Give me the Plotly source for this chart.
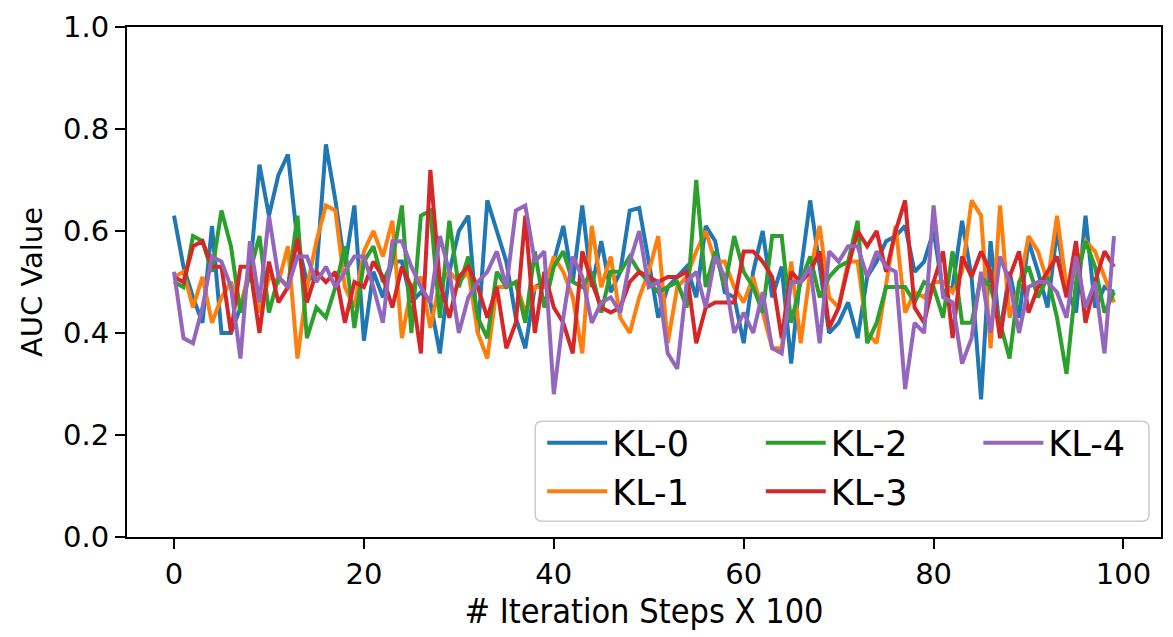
import plotly.graph_objects as go

steps = list(range(100))

kl0 = [0.63, 0.53, 0.47, 0.42, 0.61, 0.40, 0.40, 0.45, 0.52, 0.73, 0.63, 0.71, 0.75, 0.58, 0.50, 0.52, 0.77,
       0.66, 0.53, 0.65, 0.385, 0.52, 0.47, 0.54, 0.54, 0.46, 0.48, 0.46, 0.36, 0.52, 0.60, 0.63, 0.40,
       0.66, 0.60, 0.54, 0.43, 0.37, 0.49, 0.50, 0.54, 0.61, 0.50, 0.65, 0.49, 0.58, 0.48, 0.52, 0.64,
       0.645, 0.54, 0.43, 0.49, 0.51, 0.53, 0.47, 0.61, 0.58, 0.48, 0.47, 0.38, 0.52, 0.60, 0.47, 0.53,
       0.34, 0.52, 0.66, 0.53, 0.40, 0.42, 0.46, 0.39, 0.51, 0.54, 0.58, 0.59, 0.61, 0.52, 0.54, 0.60,
       0.48, 0.49, 0.62, 0.51, 0.27, 0.58, 0.40, 0.52, 0.43, 0.58, 0.52, 0.45, 0.60, 0.49, 0.44, 0.63,
       0.45, 0.49, 0.48]
kl1 = [0.51, 0.52, 0.45, 0.51, 0.42, 0.47, 0.50, 0.45, 0.53, 0.44, 0.51, 0.50, 0.57, 0.35, 0.49, 0.58, 0.65,
       0.64, 0.49, 0.45, 0.56, 0.60, 0.55, 0.62, 0.39, 0.49, 0.51, 0.41, 0.50, 0.52, 0.50, 0.52, 0.40,
       0.35, 0.49, 0.49, 0.50, 0.44, 0.49, 0.49, 0.55, 0.52, 0.47, 0.36, 0.61, 0.49, 0.55, 0.43, 0.40,
       0.47, 0.52, 0.59, 0.38, 0.49, 0.51, 0.56, 0.60, 0.54, 0.54, 0.49, 0.46, 0.51, 0.44, 0.37, 0.37,
       0.54, 0.38, 0.52, 0.61, 0.47, 0.45, 0.54, 0.54, 0.40, 0.38, 0.49, 0.61, 0.44, 0.48, 0.47, 0.50,
       0.50, 0.48, 0.52, 0.66, 0.63, 0.37, 0.65, 0.43, 0.49, 0.59, 0.56, 0.50, 0.63, 0.49, 0.52, 0.58,
       0.56, 0.51, 0.46]
kl2 = [0.50, 0.49, 0.59, 0.58, 0.52, 0.64, 0.57, 0.44, 0.52, 0.59, 0.44, 0.51, 0.49, 0.63, 0.39, 0.45, 0.43,
       0.49, 0.57, 0.41, 0.54, 0.57, 0.50, 0.54, 0.65, 0.40, 0.63, 0.64, 0.43, 0.62, 0.49, 0.55, 0.43,
       0.39, 0.52, 0.49, 0.50, 0.42, 0.56, 0.45, 0.53, 0.56, 0.50, 0.49, 0.52, 0.44, 0.52, 0.52, 0.55,
       0.52, 0.50, 0.48, 0.49, 0.50, 0.45, 0.70, 0.49, 0.56, 0.49, 0.59, 0.52, 0.49, 0.44, 0.59, 0.59,
       0.42, 0.50, 0.55, 0.47, 0.51, 0.53, 0.54, 0.62, 0.38, 0.42, 0.49, 0.49, 0.49, 0.46, 0.50, 0.49,
       0.43, 0.56, 0.42, 0.42, 0.51, 0.49, 0.42, 0.35, 0.50, 0.53, 0.47, 0.51, 0.43, 0.32, 0.50, 0.58,
       0.53, 0.44, 0.48]
kl3 = [0.51, 0.50, 0.57, 0.58, 0.53, 0.53, 0.40, 0.53, 0.53, 0.40, 0.54, 0.46, 0.49, 0.585, 0.46, 0.52, 0.50,
       0.52, 0.42, 0.50, 0.49, 0.54, 0.51, 0.45, 0.53, 0.49, 0.36, 0.72, 0.50, 0.43, 0.51, 0.53, 0.49,
       0.43, 0.49, 0.37, 0.42, 0.63, 0.40, 0.52, 0.45, 0.42, 0.36, 0.56, 0.50, 0.45, 0.44, 0.45, 0.50,
       0.52, 0.51, 0.50, 0.51, 0.51, 0.52, 0.38, 0.45, 0.46, 0.46, 0.46, 0.56, 0.56, 0.54, 0.51, 0.39,
       0.52, 0.50, 0.52, 0.56, 0.41, 0.45, 0.53, 0.60, 0.57, 0.60, 0.52, 0.60, 0.66, 0.45, 0.42, 0.50,
       0.56, 0.39, 0.55, 0.51, 0.56, 0.52, 0.39, 0.51, 0.56, 0.44, 0.49, 0.52, 0.55, 0.47, 0.58, 0.42,
       0.50, 0.56, 0.53]
kl4 = [0.52, 0.39, 0.38, 0.45, 0.55, 0.54, 0.49, 0.35, 0.58, 0.46, 0.63, 0.51, 0.49, 0.55, 0.55, 0.50, 0.53,
       0.49, 0.52, 0.55, 0.55, 0.49, 0.42, 0.58, 0.58, 0.53, 0.49, 0.46, 0.59, 0.52, 0.40, 0.47, 0.50,
       0.52, 0.56, 0.49, 0.64, 0.65, 0.54, 0.56, 0.28, 0.43, 0.55, 0.51, 0.42, 0.46, 0.47, 0.44, 0.54,
       0.60, 0.49, 0.50, 0.36, 0.33, 0.50, 0.52, 0.45, 0.55, 0.51, 0.40, 0.44, 0.40, 0.48, 0.37, 0.36,
       0.50, 0.50, 0.53, 0.38, 0.56, 0.54, 0.57, 0.57, 0.51, 0.56, 0.53, 0.52, 0.29, 0.42, 0.40, 0.65,
       0.47, 0.46, 0.34, 0.39, 0.52, 0.40, 0.55, 0.50, 0.40, 0.49, 0.50, 0.50, 0.48, 0.43, 0.55, 0.45,
       0.50, 0.36, 0.59]

series_names = ["KL-0", "KL-1", "KL-2", "KL-3", "KL-4"]
series_values = [kl0, kl1, kl2, kl3, kl4]
colors = ["#1f77b4", "#ff7f0e", "#2ca02c", "#d62728", "#9467bd"]
legend_ids = ["legend", "legend", "legend2", "legend2", "legend3"]

x_ticks = [0, 20, 40, 60, 80, 100]
y_ticks = [0.0, 0.2, 0.4, 0.6, 0.8, 1.0]

FONT = "DejaVu Sans"
COND = "DejaVu Sans Condensed, DejaVu Sans"
fig = go.Figure()
for name, vals, col, lg in zip(series_names, series_values, colors, legend_ids):
    fig.add_trace(go.Scatter(x=steps, y=vals, mode="lines", name=name, legendgroup=name,
                             line=dict(color=col, width=4), legend=lg))

# plot area in px: x 127..1163, y 21..537
W, H = 1173, 637
L, R, T, B = 127, 10, 21, 100
pw, ph = W - L - R, H - T - B

def px(xp):
    return (xp - L) / pw

def py(yp):
    return (H - B - yp) / ph

# legend frame with rounded corners
x0, x1, y0, y1 = px(536), px(1151), py(521), py(420)
rx, ry = 7 / pw, 7 / ph
path = (f"M{x0+rx},{y0} L{x1-rx},{y0} Q{x1},{y0} {x1},{y0+ry} "
        f"L{x1},{y1-ry} Q{x1},{y1} {x1-rx},{y1} L{x0+rx},{y1} "
        f"Q{x0},{y1} {x0},{y1-ry} L{x0},{y0+ry} Q{x0},{y0} {x0+rx},{y0} Z")
fig.add_shape(type="path", path=path, xref="paper", yref="paper",
              line=dict(color="#cccccc", width=1.5), fillcolor="rgba(255,255,255,0.8)",
              layer="above")

leg_common = dict(orientation="v", xanchor="left", yanchor="top",
                  bgcolor="rgba(0,0,0,0)", borderwidth=0,
                  font=dict(family=FONT, size=35, color="black"),
                  itemwidth=60, tracegroupgap=0)

fig.update_layout(
    width=W, height=H,
    margin=dict(l=L, r=R, t=T, b=B),
    paper_bgcolor="white", plot_bgcolor="white",
    font=dict(family=FONT, size=29, color="black"),
    legend=dict(x=px(543), y=py(412), **leg_common),
    legend2=dict(x=px(762), y=py(412), **leg_common),
    legend3=dict(x=px(980), y=py(412), **leg_common),
    xaxis=dict(range=[-4.95, 103.95], tickvals=x_ticks, ticks="outside", ticklen=10,
               tickwidth=2, tickcolor="black", showline=True, linecolor="black",
               linewidth=2, mirror=True, showgrid=False, zeroline=False,
               tickfont=dict(family=FONT, size=29),
               title=dict(text="# Iteration Steps X 100", font=dict(family=COND, size=34),
                          standoff=8)),
    yaxis=dict(range=[0, 1], tickvals=y_ticks, tickformat=".1f", ticks="outside",
               ticklen=10, tickwidth=2, tickcolor="black", showline=True,
               linecolor="black", linewidth=2, mirror=True, showgrid=False,
               zeroline=False, tickfont=dict(family=FONT, size=29),
               title=dict(text="AUC Value", font=dict(family=FONT, size=29), standoff=12)),
)

fig.write_html("out.html")
